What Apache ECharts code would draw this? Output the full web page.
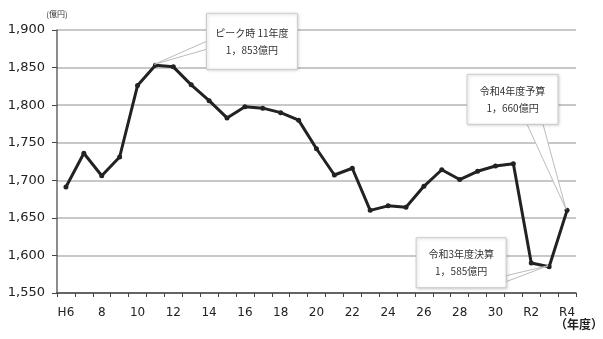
<!DOCTYPE html>
<html>
<head>
<meta charset="utf-8">
<script src="https://cdn.jsdelivr.net/npm/echarts@6/dist/echarts.min.js"></script>
<style>
  html, body { margin: 0; padding: 0; background: #fff; }
  #main { width: 603px; height: 339px; }
</style>
</head>
<body>
<div id="main"></div>
<script>
// fiscal years H6 ... H31(R1), R2, R3, R4
const years = ['H6', '7', '8', '9', '10', '11', '12', '13', '14', '15', '16', '17', '18', '19', '20',
  '21', '22', '23', '24', '25', '26', '27', '28', '29', '30', 'R1', 'R2', 'R3', 'R4']
// 億円
const amounts = [1691, 1736, 1706, 1731, 1826, 1853, 1851, 1827, 1806, 1783, 1798, 1796, 1790, 1780, 1742,
  1707, 1716, 1660, 1666, 1664, 1692, 1714, 1701, 1712, 1719, 1722, 1590, 1585, 1660]
const yTicks = [1550, 1600, 1650, 1700, 1750, 1800, 1850, 1900]

const notes = [
  {idx: 5, lines: ['ピーク時 11年度', '1，853億円'], box: [51, -52, 91, 56], base: [[0, 28], [0, 36]]},
  {idx: 28, lines: ['令和4年度予算', '1，660億円'], box: [-100, -136, 91, 50], base: [[60, 50], [76, 50]]},
  {idx: 27, lines: ['令和3年度決算', '1，585億円'], box: [-133, -29, 90, 50], base: [[90, 38], [90, 44]]}
]

const chart = echarts.init(document.getElementById('main'))

const option = {
  animation: false,
  grid: {left: 57, right: 27, top: 30, bottom: 46},
  xAxis: {
    type: 'category',
    data: years,
    boundaryGap: true,
    axisLine: {lineStyle: {color: '#444', width: 1.5}},
    axisTick: {show: true, interval: 0, length: 4, lineStyle: {color: '#444'}},
    axisLabel: {
      interval: 1,
      margin: 14,
      color: '#222',
      fontFamily: 'DejaVu Sans',
      fontSize: 12
    }
  },
  yAxis: {
    type: 'value',
    min: yTicks[0],
    max: yTicks[yTicks.length - 1],
    interval: 50,
    name: '(億円)',
    nameGap: 12,
    nameTextStyle: {color: '#333', fontSize: 8, fontFamily: 'Noto Sans CJK JP', align: 'center'},
    axisLine: {show: true, lineStyle: {color: '#666', width: 1.5}},
    axisTick: {show: true, length: 5, lineStyle: {color: '#444'}},
    axisLabel: {
      margin: 12,
      color: '#222',
      fontFamily: 'DejaVu Sans',
      fontSize: 13,
      formatter: v => v.toLocaleString('en-US')
    },
    splitLine: {lineStyle: {color: '#c8c8c8', width: 2}}
  },
  series: [{
    type: 'line',
    data: amounts,
    symbol: 'circle',
    symbolSize: 5,
    lineStyle: {color: '#222', width: 3},
    itemStyle: {color: '#222'}
  }]
}

chart.setOption(option)

// callout boxes anchored to the data points
const graphics = []
notes.forEach(n => {
  const p = chart.convertToPixel({gridIndex: 0}, [n.idx, amounts[n.idx]])
  const bx = p[0] + n.box[0]
  const by = p[1] + n.box[1]
  graphics.push({
    type: 'polygon',
    shape: {points: [[bx + n.base[0][0], by + n.base[0][1]], [p[0] - 1, p[1] - 1], [bx + n.base[1][0], by + n.base[1][1]]]},
    style: {fill: '#fff', stroke: '#bbb', lineWidth: 1},
    z: 10
  })
  graphics.push({
    type: 'rect',
    shape: {x: bx, y: by, width: n.box[2], height: n.box[3]},
    style: {fill: '#fff', stroke: '#ccc', lineWidth: 1, shadowBlur: 3, shadowColor: 'rgba(0,0,0,0.2)', shadowOffsetX: 1, shadowOffsetY: 1},
    z: 11
  })
  graphics.push({
    type: 'text',
    x: bx + n.box[2] / 2,
    y: by + n.box[3] / 2,
    style: {
      text: n.lines.join('\n'),
      fill: '#333',
      font: '10px "Noto Sans CJK JP"',
      align: 'center',
      verticalAlign: 'middle',
      lineHeight: 17
    },
    z: 12
  })
})
graphics.push({
  type: 'text',
  right: 0,
  top: 318,
  style: {text: '（年度）', fill: '#222', font: 'bold 12px "Noto Sans CJK JP"'}
})

chart.setOption({graphic: graphics})
</script>
</body>
</html>
